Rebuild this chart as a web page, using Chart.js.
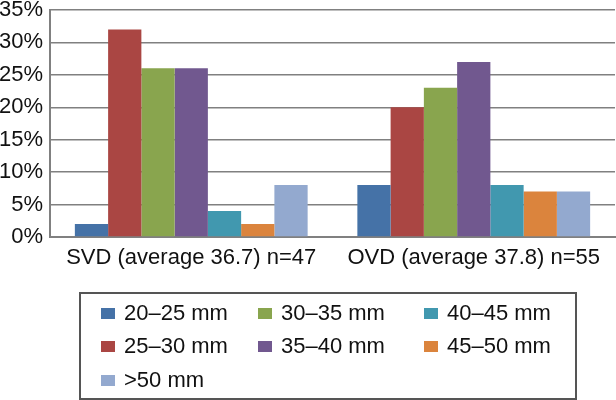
<!DOCTYPE html>
<html>
<head>
<meta charset="utf-8">
<script src="https://cdn.jsdelivr.net/npm/chart.js@4.4.0/dist/chart.umd.min.js"></script>
<style>
  html, body { margin: 0; padding: 0; background: #fff; }
  #wrap { position: relative; width: 616px; height: 400px; }
  #legend {
    position: absolute; left: 79px; top: 292px; width: 494px; height: 104px;
    border: 2px solid #555; font-family: "Liberation Sans", Arial, sans-serif;
    font-size: 22px; color: #111;
  }
  .item { position: absolute; height: 26px; line-height: 26px; white-space: nowrap; }
  .sw { position: absolute; left: 0; top: 8px; width: 14px; height: 11px; }
  .lbl { position: absolute; left: 23px; top: 0; }
</style>
</head>
<body>
<div id="wrap">
  <canvas id="myChart" width="616" height="400"></canvas>
  <div id="legend"></div>
</div>
<script>
const categories = ['SVD (average 36.7) n=47', 'OVD (average 37.8) n=55'];
const seriesNames = ['20\u201325 mm', '25\u201330 mm', '30\u201335 mm', '35\u201340 mm', '40\u201345 mm', '45\u201350 mm', '>50 mm'];
const size20_25 = [2, 8];
const size25_30 = [32, 20];
const size30_35 = [26, 23];
const size35_40 = [26, 27];
const size40_45 = [4, 8];
const size45_50 = [2, 7];
const sizeOver50 = [8, 7];
const colors = ['#4572A7', '#AA4643', '#89A54E', '#71588F', '#4198AF', '#DB843D', '#93A9CF'];

const values = [size20_25, size25_30, size30_35, size35_40, size40_45, size45_50, sizeOver50];
const font = { family: '"Liberation Sans", Arial, sans-serif', size: 22 };

const data = {
  labels: categories,
  datasets: seriesNames.map((name, i) => ({
    label: name,
    data: values[i],
    backgroundColor: colors[i],
    borderWidth: 0,
    categoryPercentage: 0.824,
    barPercentage: 1.0
  }))
};

const config = {
  type: 'bar',
  data: data,
  options: {
    responsive: false,
    animation: false,
    layout: { padding: { top: 10, right: 1, left: 0, bottom: 0 } },
    plugins: {
      legend: { display: false },
      tooltip: { enabled: false }
    },
    scales: {
      x: {
        grid: { display: false, drawTicks: false },
        border: { color: '#808080', width: 2 },
        ticks: { color: '#111', font: font, padding: 8, maxRotation: 0 },
        afterFit: (s) => { s.height = 163; s.paddingLeft = 0; s.paddingRight = 0; }
      },
      y: {
        min: 0,
        max: 35,
        ticks: {
          stepSize: 5,
          color: '#111',
          font: font,
          padding: 7,
          callback: (v) => v + '%'
        },
        grid: { color: '#808080', lineWidth: 1.5, drawTicks: false },
        border: { color: '#808080', width: 2 },
        afterFit: (s) => { s.width = 50; s.paddingTop = 0; s.paddingBottom = 0; }
      }
    }
  }
};

let ctx = document.getElementById('myChart').getContext('2d');
var myChart = new Chart(ctx, config);

// legend laid out like the original: three columns, >50 mm on its own row
const legendCols = [20, 177, 343];
const legendRows = [6, 39, 73];
const legendSlots = [[0, 0], [0, 1], [1, 0], [1, 1], [2, 0], [2, 1], [0, 2]];
const legend = document.getElementById('legend');
seriesNames.forEach((name, i) => {
  const [c, r] = legendSlots[i];
  const item = document.createElement('div');
  item.className = 'item';
  item.style.left = legendCols[c] + 'px';
  item.style.top = legendRows[r] + 'px';
  item.innerHTML = '<span class="sw" style="background:' + colors[i] + '"></span><span class="lbl"></span>';
  item.querySelector('.lbl').textContent = name;
  legend.appendChild(item);
});
</script>
</body>
</html>
